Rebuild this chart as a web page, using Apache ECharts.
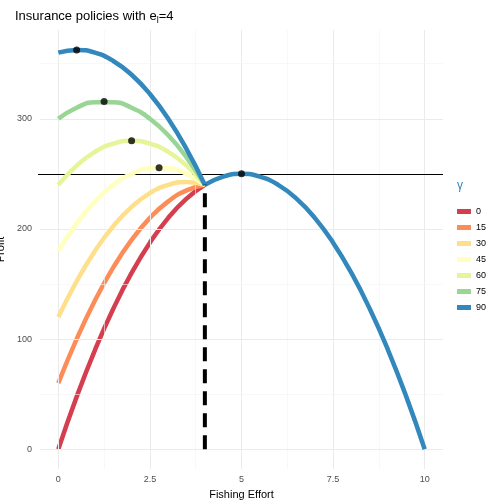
<!DOCTYPE html>
<html><head><meta charset="utf-8">
<script src="https://cdn.jsdelivr.net/npm/echarts@6/dist/echarts.min.js"></script>
<style>html,body{margin:0;padding:0;background:#fff}#c{width:504px;height:504px}</style>
</head><body><div id="c"></div>
<script>
var effortLeft=[0,0.5,1,1.5,2,2.5,3,3.5,4];
var effortRight=[4,4.5,5,5.5,6,6.5,7,7.5,8,8.5,9,9.5,10];
var gammas=['0','15','30','45','60','75','90'];
var colors=['#D53E4F','#FC8D59','#FEE08B','#FFFFBF','#E6F598','#99D594','#3288BD'];
var profitLeft=[
 [0,47.5,90,127.5,160,187.5,210,227.5,240],
 [60,100,135,165,190,210,225,235,240],
 [120,152.5,180,202.5,220,232.5,240,242.5,240],
 [180,205,225,240,250,255,255,250,240],
 [240,257.5,270,277.5,280,277.5,270,257.5,240],
 [300,310,315,315,310,300,285,265,240],
 [360,362.5,360,352.5,340,322.5,300,272.5,240]
];
var profitRight=[240,247.5,250,247.5,240,227.5,210,187.5,160,127.5,90,47.5,0];
var optima=[[0.5,362.5],[1.25,315.6],[2,280],[2.75,255.6],[5,250]];
var insuredProfit=250, limitEffort=4, limitProfit=240;
var xMajor=[0,2.5,5,7.5,10], xMinor=[1.25,3.75,6.25,8.75];
var yMajor=[0,100,200,300], yMinor=[50,150,250,350];

var series=[];
series.push({type:'line',silent:true,data:[],z:0,markLine:{symbol:'none',silent:true,label:{show:false},animation:false,
  data:[].concat(
   xMajor.map(function(v){return {xAxis:v,lineStyle:{color:'#ebebeb',width:1,type:'solid'}};}),
   xMinor.map(function(v){return {xAxis:v,lineStyle:{color:'#f4f4f4',width:0.6,type:'solid'}};}),
   yMajor.map(function(v){return {yAxis:v,lineStyle:{color:'#ebebeb',width:1,type:'solid'}};}),
   yMinor.map(function(v){return {yAxis:v,lineStyle:{color:'#f4f4f4',width:0.6,type:'solid'}};}))}});
gammas.forEach(function(g,i){
  var d=effortLeft.map(function(e,j){return [e,profitLeft[i][j]];});
  series.push({name:g,type:'line',smooth:true,showSymbol:false,data:d,color:colors[i],
    lineStyle:{width:4.5,color:colors[i]},z:3+i});
});
series.push({type:'line',smooth:true,showSymbol:false,color:colors[6],lineStyle:{width:4.5,color:colors[6]},z:10,
  data:effortRight.map(function(e,j){return [e,profitRight[j]];})});
series.push({type:'line',data:[],markLine:{symbol:'none',silent:true,label:{show:false},animation:false,
  data:[[{x:38,yAxis:insuredProfit},{x:443,yAxis:insuredProfit}]],lineStyle:{color:'#000',width:1,type:'solid'}},z:20});
series.push({type:'line',showSymbol:false,data:[[limitEffort,0],[limitEffort,limitProfit]],
  lineStyle:{color:'#000',width:4,type:[14,8]},z:21});
series.push({type:'scatter',data:optima,symbolSize:7,itemStyle:{color:'#000'},z:22});

var chart=echarts.init(document.getElementById('c'));
chart.setOption({
 animation:false,backgroundColor:'#fff',
 title:{text:'Insurance policies with e{s|l}=4',left:10,top:3,
   textStyle:{fontFamily:'Liberation Sans',fontSize:13,fontWeight:'normal',color:'#000',
   rich:{s:{fontSize:9,verticalAlign:'bottom',padding:[8,0,0,0],fontFamily:'Liberation Sans'}}}},
 grid:{left:40,right:61,top:30,bottom:35,containLabel:false,outerBoundsMode:'none'},
 legend:{data:gammas,orient:'vertical',left:452,top:202,itemGap:7,icon:'rect',itemWidth:14,itemHeight:5,
   textStyle:{fontFamily:'Liberation Sans',fontSize:9,color:'#000'}},
 graphic:[{type:'text',left:457,top:180,style:{text:'γ',fill:'#3288BD',font:'12px Liberation Sans'}}],
 xAxis:{type:'value',min:-0.5,max:10.5,name:'Fishing Effort',nameLocation:'middle',nameGap:20,
   nameTextStyle:{fontFamily:'Liberation Sans',fontSize:11,color:'#000'},
   axisLine:{show:false},axisTick:{show:false},splitLine:{show:false},
   axisLabel:{customValues:xMajor,color:'#4d4d4d',fontSize:9,fontFamily:'Liberation Sans',margin:6}},
 yAxis:{type:'value',min:-18,max:380.6,name:'Profit',nameLocation:'middle',nameGap:27,
   nameTextStyle:{fontFamily:'Liberation Sans',fontSize:11,color:'#000'},
   axisLine:{show:false},axisTick:{show:false},splitLine:{show:false},
   axisLabel:{customValues:yMajor,color:'#4d4d4d',fontSize:9,fontFamily:'Liberation Sans',margin:8}},
 series:series
});
</script></body></html>
